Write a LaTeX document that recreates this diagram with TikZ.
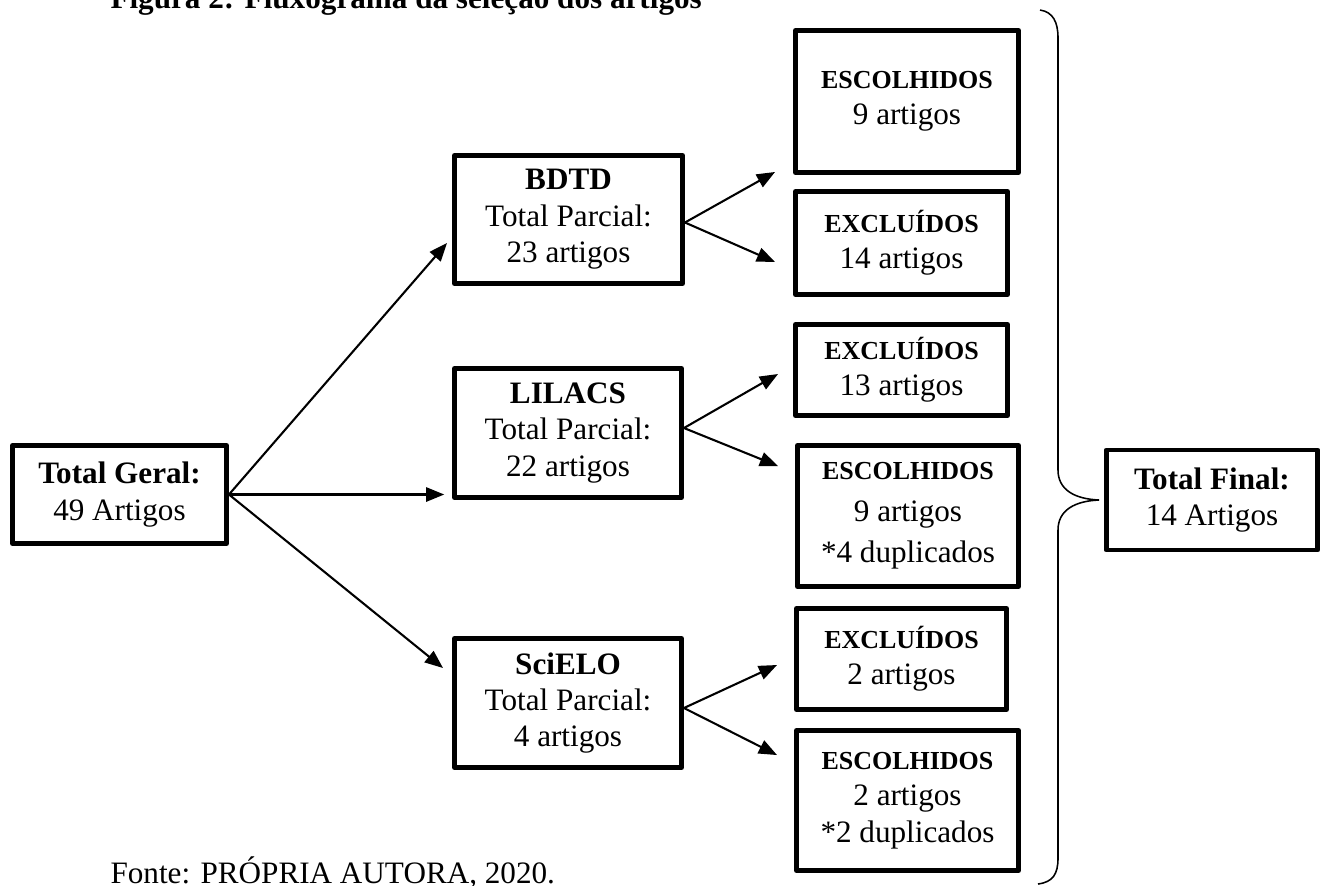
\documentclass[tikz,border=0pt]{standalone}
\usepackage{fontspec}
\setmainfont{Liberation Serif}
\usepackage{tikz}
\usetikzlibrary{arrows.meta,positioning,calc}

\newcommand{\pxu}{0.385pt}
\newcommand{\rotulo}[1]{{\fontsize{10}{14}\selectfont\bfseries #1}}

\begin{document}
\begin{tikzpicture}[x=0.385pt, y=-0.385pt,
    box/.style={draw, line width=1.9pt, line join=round, align=center, inner sep=0pt,
      font=\fontsize{12}{14}\selectfont},
    link/.style={line width=0.8pt, -{Triangle[length=7pt,width=5.5pt]}}]
  \useasboundingbox (0,0) rectangle (1325,885);

  % Title and source
  \node[anchor=base west, inner sep=0pt, font=\fontsize{12}{14}\selectfont\bfseries] (titulo) at (110,8) {Figura 2: Fluxograma da seleção dos artigos};
  \node[anchor=base west, inner sep=0pt, font=\fontsize{12}{14}\selectfont] (fonte) at (110,883) {Fonte: PRÓPRIA AUTORA, 2020.};

  % Total
  \node[box, minimum width=214*\pxu, minimum height=98*\pxu] (geral) at (119.5,494.5) {\textbf{Total Geral:}\\49 Artigos};

  % Databases
  \node[box, minimum width=228*\pxu, minimum height=128*\pxu] (bdtd) at (568.5,219.5) {\textbf{BDTD}\\Total Parcial:\\23 artigos};
  \node[box, minimum width=227*\pxu, minimum height=129*\pxu] (lilacs) at (568,433) {\textbf{LILACS}\\Total Parcial:\\22 artigos};
  \node[box, minimum width=227*\pxu, minimum height=129*\pxu] (scielo) at (568,703) {\textbf{SciELO}\\Total Parcial:\\4 artigos};

  % Results
  \node[box, minimum width=223*\pxu, minimum height=142*\pxu] (esc1) at (907,101.5) {\rotulo{ESCOLHIDOS}\\9 artigos};
  \node[box, minimum width=212*\pxu, minimum height=103*\pxu] (exc1) at (901.5,243) {\rotulo{EXCLUÍDOS}\\14 artigos};
  \node[box, minimum width=212*\pxu, minimum height=91*\pxu] (exc2) at (901.5,370) {\rotulo{EXCLUÍDOS}\\13 artigos};
  \node[box, minimum width=221*\pxu, minimum height=141*\pxu] (esc2) at (908,516) {\rotulo{ESCOLHIDOS}\\[2pt]9 artigos\\[2pt]*4 duplicados};
  \node[box, minimum width=210*\pxu, minimum height=101*\pxu] (exc3) at (901.5,659) {\rotulo{EXCLUÍDOS}\\2 artigos};
  \node[box, minimum width=222*\pxu, minimum height=140*\pxu] (esc3) at (907.5,800.5) {\rotulo{ESCOLHIDOS}\\2 artigos\\*2 duplicados};

  % Final
  \node[box, minimum width=211*\pxu, minimum height=100*\pxu] (final) at (1212,500) {\textbf{Total Final:}\\14 Artigos};

  % Arrows from the total
  \draw[link] (geral.east) -- ($(bdtd.west)+(-5,23.5)$);
  \draw[link, shorten >=3pt] (geral.east) -- (geral.east -| lilacs.west);
  \draw[link] (geral.east) -- ($(scielo.west)+(-9,-35)$);

  % Arrows to the results
  \draw[link] ($(bdtd.east)+(0,3)$) -- ($(esc1.south west)+(-18,-3)$);
  \draw[link] ($(bdtd.east)+(0,3)$) -- ($(exc1.west)+(-18,19)$);
  \draw[link] ($(lilacs.east)+(0,-5)$) -- ($(exc2.west)+(-15,4)$);
  \draw[link] ($(lilacs.east)+(0,-5)$) -- ($(esc2.north west)+(-17,23)$);
  \draw[link] ($(scielo.east)+(0,5)$) -- ($(exc3.west)+(-17,6)$);
  \draw[link] ($(scielo.east)+(0,5)$) -- ($(esc3.north west)+(-17,27)$);

  % Brace
  \draw[line width=0.6pt] (1040,10) .. controls (1053,12) and (1058,22) .. (1058,38)
    -- (1058,470) .. controls (1058,490) and (1075,499) .. (1099,500)
    .. controls (1075,501) and (1058,510) .. (1058,530)
    -- (1058,858) .. controls (1058,874) and (1053,882) .. (1038,884);
\end{tikzpicture}
\end{document}
